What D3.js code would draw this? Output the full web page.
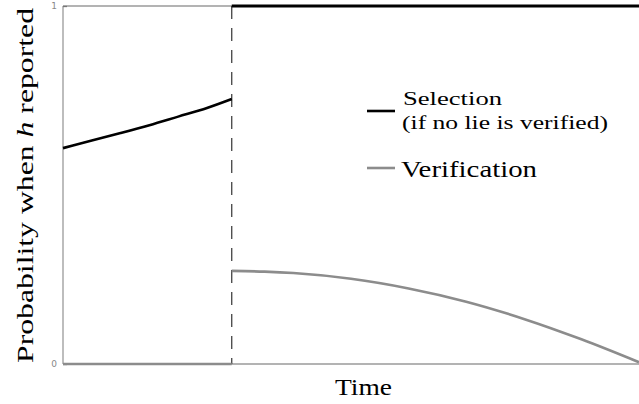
<!DOCTYPE html>
<html>
<head>
<meta charset="utf-8">
<script src="https://cdn.jsdelivr.net/npm/d3@7"></script>
<style>
  html, body { margin: 0; padding: 0; background: #fff; }
  svg { display: block; }
</style>
</head>
<body>
<svg id="chart" width="639" height="404"></svg>
<script>
// Switch time (dashed line) on a 0..1 time axis
const switchTime = 0.293;

// Selection probability before the switch, then certain selection after it
const selectionTimes  = [0, 0.05, 0.1, 0.15, 0.2, 0.25, 0.293];
const selectionBefore = [0.603, 0.624, 0.645, 0.667, 0.691, 0.715, 0.74];
const selectionAfterTimes = [0.293, 1];
const selectionAfter      = [1, 1];

// Verification probability: zero before the switch, decaying after it
const verificationBeforeTimes = [0, 0.293];
const verificationBefore      = [0, 0];
const verificationTimes = [0.293, 0.35, 0.4, 0.5, 0.6, 0.7, 0.8, 0.9, 1.0];
const verificationAfter = [0.26, 0.258, 0.254, 0.238, 0.211, 0.174, 0.126, 0.069, 0.005];

const yTicks = [0, 1];
const legendLabels = [["Selection", "(if no lie is verified)"], ["Verification"]];

const svg = d3.select("#chart");
const margin = { left: 63, right: 0, top: 6, bottom: 40 };
const W = 639, H = 404;

const x = d3.scaleLinear().domain([0, 1]).range([margin.left, W - margin.right]);
const y = d3.scaleLinear().domain([0, 1]).range([H - margin.bottom, margin.top]);

const serif = "'Liberation Serif', 'Times New Roman', serif";
const axisGrey = "#9a9a9a";

// Frame lines: left axis, bottom axis, top edge
svg.append("line").attr("x1", x(0)).attr("x2", x(0)).attr("y1", y(0)).attr("y2", y(1))
  .attr("stroke", axisGrey).attr("stroke-width", 1.3);
svg.append("line").attr("x1", x(0)).attr("x2", x(1)).attr("y1", y(0)).attr("y2", y(0))
  .attr("stroke", axisGrey).attr("stroke-width", 1.3);
svg.append("line").attr("x1", x(0)).attr("x2", x(1)).attr("y1", y(1)).attr("y2", y(1))
  .attr("stroke", axisGrey).attr("stroke-width", 1.3);

// Y ticks
const yAxis = d3.axisLeft(y).tickValues(yTicks).tickFormat(d3.format("d")).tickSize(-4).tickPadding(5);
const gy = svg.append("g").attr("transform", `translate(${x(0)},0)`).call(yAxis);
gy.select(".domain").remove();
gy.selectAll(".tick line").attr("stroke", "#777").attr("stroke-width", 1.3);
gy.selectAll(".tick text").attr("fill", "#888").attr("font-family", "'DejaVu Sans', sans-serif")
  .attr("font-size", 9).attr("dx", -1);

// Dashed switch line
svg.append("line").attr("x1", x(switchTime)).attr("x2", x(switchTime))
  .attr("y1", y(1)).attr("y2", y(0))
  .attr("stroke", "#222").attr("stroke-width", 1.1).attr("stroke-dasharray", "13,9");

const line = d3.line().x(d => x(d[0])).y(d => y(d[1])).curve(d3.curveMonotoneX);
const zip = (ts, vs) => ts.map((t, i) => [t, vs[i]]);

const grey = "#8c8c8c";
// Verification
svg.append("path").datum(zip(verificationBeforeTimes, verificationBefore)).attr("d", line)
  .attr("fill", "none").attr("stroke", grey).attr("stroke-width", 2.6);
svg.append("path").datum(zip(verificationTimes, verificationAfter)).attr("d", line)
  .attr("fill", "none").attr("stroke", grey).attr("stroke-width", 2.6);
// Selection
svg.append("path").datum(zip(selectionTimes, selectionBefore)).attr("d", line)
  .attr("fill", "none").attr("stroke", "#000").attr("stroke-width", 2.6);
svg.append("path").datum(zip(selectionAfterTimes, selectionAfter)).attr("d", line)
  .attr("fill", "none").attr("stroke", "#000").attr("stroke-width", 2.8);

// Text helper: serif text widened to the set length
function label(sel, xp, yp, size, len, txt) {
  return sel.append("text").attr("x", xp).attr("y", yp)
    .attr("font-family", serif).attr("font-size", size)
    .attr("textLength", len).attr("lengthAdjust", "spacingAndGlyphs")
    .text(txt);
}

// Legend
const lg = svg.append("g");
lg.append("line").attr("x1", 367).attr("x2", 395).attr("y1", 111).attr("y2", 111)
  .attr("stroke", "#000").attr("stroke-width", 2.6);
label(lg, 403, 105, 19.5, 99, legendLabels[0][0]);
label(lg, 402, 129, 19.5, 206, legendLabels[0][1]);
lg.append("line").attr("x1", 367).attr("x2", 395).attr("y1", 168).attr("y2", 168)
  .attr("stroke", grey).attr("stroke-width", 2.6);
label(lg, 401, 177, 22.5, 136, legendLabels[1][0]);

// Axis titles
label(svg, 335, 395, 22.5, 57, "Time");

const yt = svg.append("text").attr("transform", "translate(33,363) rotate(-90)")
  .attr("font-family", serif).attr("font-size", 23.5)
  .attr("textLength", 355).attr("lengthAdjust", "spacingAndGlyphs");
yt.append("tspan").text("Probability when ");
yt.append("tspan").attr("font-style", "italic").text("h");
yt.append("tspan").text(" reported");
</script>
</body>
</html>
